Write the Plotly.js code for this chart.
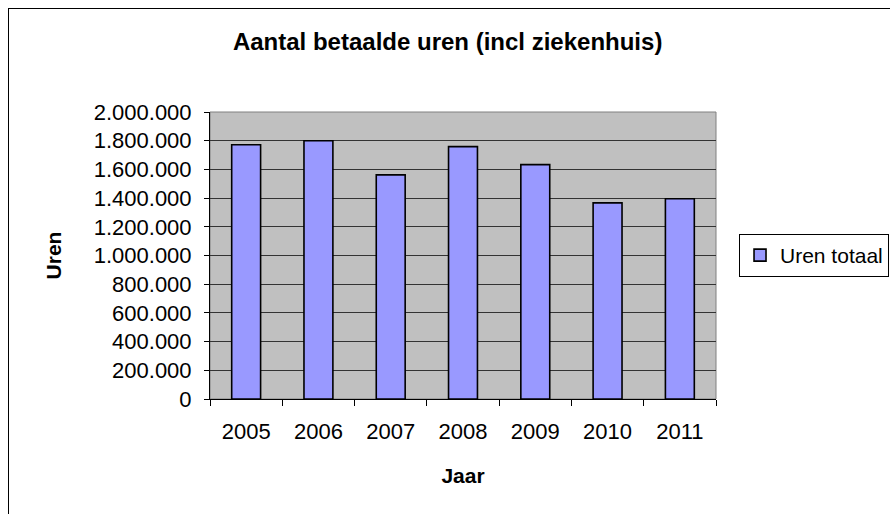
<!DOCTYPE html>
<html>
<head>
<meta charset="utf-8">
<script src="https://cdn.plot.ly/plotly-3.0.1.min.js"></script>
<style>
  html, body { margin: 0; padding: 0; background: #fff; overflow: hidden; }
  #chart { position: absolute; left: 0; top: 0; width: 890px; height: 514px; }
  #frame { position: absolute; left: 8px; top: 8px; width: 900px; height: 520px; border: 1px solid #000; pointer-events: none; }
</style>
</head>
<body>
<div id="chart"></div>
<div id="frame"></div>
<script>
const years = ['2005', '2006', '2007', '2008', '2009', '2010', '2011'];
const urenTotaal = [1772000, 1800000, 1562000, 1759000, 1633000, 1367000, 1395000];
const seriesName = 'Uren totaal';
const chartTitle = 'Aantal betaalde uren (incl ziekenhuis)';
const xTitle = 'Jaar';
const yTitle = 'Uren';

const font = 'Arial, "Liberation Sans", sans-serif';

const trace = {
  type: 'bar',
  x: years,
  y: urenTotaal,
  name: seriesName,
  width: 0.4,
  marker: { color: '#9999ff', line: { color: '#000000', width: 1.6 } },
  showlegend: true
};

const layout = {
  width: 890,
  height: 514,
  margin: { l: 210, r: 174, t: 112, b: 115, pad: 0, autoexpand: false },
  paper_bgcolor: '#ffffff',
  plot_bgcolor: '#c0c0c0',
  separators: ',.',
  font: { family: font, color: '#000', size: 22 },
  title: {
    text: '<b>' + chartTitle + '</b>',
    font: { family: font, size: 24, color: '#000' },
    x: 0.503, xref: 'container', xanchor: 'center',
    y: 1 - 42 / 514, yref: 'container', yanchor: 'middle'
  },
  xaxis: {
    type: 'category',
    tickson: 'boundaries',
    ticks: 'outside', ticklen: 6, tickcolor: '#000', tickwidth: 1,
    showline: true, linecolor: '#000', linewidth: 1,
    showgrid: false, zeroline: false,
    tickfont: { family: font, size: 22, color: '#000' },
    ticklabelstandoff: 13,
    title: { text: '<b>' + xTitle + '</b>', font: { family: font, size: 21, color: '#000' }, standoff: 24 },
    automargin: false
  },
  yaxis: {
    range: [0, 2000000],
    dtick: 200000,
    tick0: 0,
    tickformat: ',d',
    ticks: 'outside', ticklen: 5, tickcolor: '#000', tickwidth: 1,
    showline: true, linecolor: '#000', linewidth: 1,
    showgrid: true, gridcolor: '#333333', gridwidth: 1,
    zeroline: false,
    tickfont: { family: font, size: 22, color: '#000' },
    ticklabelstandoff: 8,
    title: { text: '<b>' + yTitle + '</b>', font: { family: font, size: 21, color: '#000' }, standoff: 26 },
    automargin: false
  },
  legend: {
    x: 1.0455, xanchor: 'left',
    y: 0.5, yanchor: 'middle',
    bgcolor: '#ffffff',
    bordercolor: '#000', borderwidth: 1,
    font: { family: font, size: 21, color: '#000' }
  },
  shapes: [{
    type: 'rect', xref: 'paper', yref: 'paper', x0: 0, x1: 1, y0: 0, y1: 1,
    line: { color: '#808080', width: 1 }, fillcolor: 'rgba(0,0,0,0)', layer: 'below'
  }],
  bargap: 0.6
};

Plotly.newPlot('chart', [trace], layout, { displayModeBar: false, staticPlot: true });
</script>
</body>
</html>
